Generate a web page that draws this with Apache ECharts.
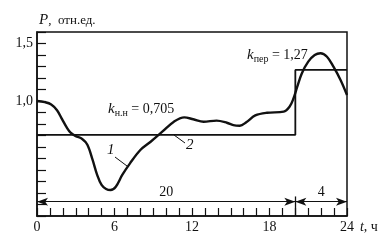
<!DOCTYPE html>
<html>
<head>
<meta charset="utf-8">
<script src="https://cdn.jsdelivr.net/npm/echarts@6/dist/echarts.min.js"></script>
<style>
  html, body { margin: 0; padding: 0; background: #fff; }
  #chart { width: 381px; height: 246px; }
</style>
</head>
<body>
<div id="chart"></div>
<script>
// Daily load curve (1) and its two-step equivalent (2), in relative units
const hours = [0, 0.6, 1.1, 1.55, 1.95, 2.3, 2.6, 3.0, 3.5, 3.9, 4.3, 4.65, 5.0, 5.35, 5.7, 6.1, 6.6, 7.2, 8.0, 8.8, 9.7, 10.6, 11.4, 12.1, 12.9, 13.9, 14.7, 15.2, 15.7, 16.2, 16.9, 17.8, 19.1, 19.55, 19.85, 20.15, 20.5, 21.0, 21.5, 21.95, 22.45, 22.95, 23.5, 24];
const load  = [1.0, 0.99, 0.97, 0.92, 0.84, 0.77, 0.725, 0.695, 0.67, 0.62, 0.49, 0.36, 0.27, 0.235, 0.226, 0.255, 0.357, 0.458, 0.574, 0.646, 0.733, 0.82, 0.858, 0.841, 0.82, 0.829, 0.811, 0.79, 0.785, 0.815, 0.875, 0.898, 0.907, 0.95, 1.02, 1.125, 1.24, 1.342, 1.40, 1.415, 1.385, 1.298, 1.183, 1.052];

// Equivalent two-step schedule: underload part and overload part
const kUnder = 0.705;
const kOver = 1.27;
const tUnder = 20;
const tDay = 24;
const stepHours = [0, tUnder, tUnder, tDay];
const stepLevels = [kUnder, kUnder, kOver, kOver];

const xTickLabels = [0, 6, 12, 18, 24];
const yTickLabels = [1.0, 1.5];
const dimLevel = 0.125;

const serif = '"Liberation Serif", "DejaVu Serif", serif';
const ink = '#111';

const chart = echarts.init(document.getElementById('chart'), null, { renderer: 'canvas' });

const fmt = v => String(v.toFixed(1)).replace('.', ',');

chart.setOption({
  animation: false,
  backgroundColor: '#fff',
  grid: {
    left: 37, right: 34, top: 32, bottom: 30,
    show: true, borderColor: ink, borderWidth: 1.5, backgroundColor: 'transparent'
  },
  xAxis: {
    type: 'value', min: 0, max: tDay, interval: 1,
    axisLine: { lineStyle: { color: ink, width: 1.5 } },
    axisTick: { inside: true, length: 8, lineStyle: { color: ink, width: 1.2 } },
    splitLine: { show: false },
    axisLabel: {
      color: ink, fontFamily: serif, fontSize: 14, margin: 4,
      formatter: v => xTickLabels.indexOf(Math.round(v)) >= 0 && Math.abs(v - Math.round(v)) < 1e-6 ? String(Math.round(v)) : ''
    },
    name: '{t|t}{u|, ч}',
    nameLocation: 'end', nameGap: 5,
    nameTextStyle: {
      verticalAlign: 'top', padding: [4, 0, 0, 0],
      rich: {
        t: { fontFamily: serif, fontStyle: 'italic', fontSize: 14, color: ink },
        u: { fontFamily: serif, fontSize: 14, color: ink }
      }
    }
  },
  yAxis: {
    type: 'value', min: 0, max: 1.6, interval: 0.1,
    axisLine: { lineStyle: { color: ink, width: 1.5 } },
    axisTick: { inside: true, length: 9, lineStyle: { color: ink, width: 1.2 } },
    splitLine: { show: false },
    axisLabel: {
      color: ink, fontFamily: serif, fontSize: 14, margin: 4,
      formatter: v => {
        for (const y of yTickLabels) if (Math.abs(v - y) < 1e-6) return fmt(y);
        return '';
      }
    },
    name: '{p|P}{u|,  отн.ед.}',
    nameLocation: 'end', nameGap: 4,
    nameTextStyle: {
      align: 'left', verticalAlign: 'bottom', padding: [0, 0, 0, 2],
      rich: {
        p: { fontFamily: serif, fontStyle: 'italic', fontSize: 15, color: ink },
        u: { fontFamily: serif, fontSize: 13, color: ink }
      }
    }
  },
  series: [
    {
      name: '1', type: 'line', smooth: 0.35, showSymbol: false, silent: true,
      data: hours.map((h, i) => [h, load[i]]),
      lineStyle: { color: ink, width: 2.4 }
    },
    {
      name: '2', type: 'line', showSymbol: false, silent: true,
      data: stepHours.map((h, i) => [h, stepLevels[i]]),
      lineStyle: { color: ink, width: 1.8 },
      markLine: {
        silent: true, animation: false,
        symbol: ['arrow', 'arrow'], symbolSize: [6, 11],
        lineStyle: { color: ink, width: 1, type: 'solid' },
        label: { show: true, position: 'middle', distance: 2, color: ink, fontFamily: serif, fontSize: 14 },
        data: [
          [{ coord: [0, dimLevel], label: { formatter: String(tUnder) } }, { coord: [tUnder, dimLevel] }],
          [{ coord: [tUnder, dimLevel], label: { formatter: String(tDay - tUnder) } }, { coord: [tDay, dimLevel] }],
          [{ coord: [tUnder, 0], symbol: 'none', label: { show: false }, lineStyle: { width: 1.3 } }, { coord: [tUnder, 0.17], symbol: 'none' }]
        ]
      }
    }
  ],
  graphic: [
    {
      type: 'text', left: 108, top: 102, silent: true,
      style: {
        text: '{k|k}{s|н.н}{v| = 0,705}',
        rich: {
          k: { fontFamily: serif, fontStyle: 'italic', fontSize: 15, fill: ink },
          s: { fontFamily: serif, fontSize: 10, fill: ink, padding: [8, 0, 0, 0] },
          v: { fontFamily: serif, fontSize: 14, fill: ink }
        }
      }
    },
    {
      type: 'text', left: 247, top: 48, silent: true,
      style: {
        text: '{k|k}{s|пер}{v| = 1,27}',
        rich: {
          k: { fontFamily: serif, fontStyle: 'italic', fontSize: 15, fill: ink },
          s: { fontFamily: serif, fontSize: 10, fill: ink, padding: [8, 0, 0, 0] },
          v: { fontFamily: serif, fontSize: 14, fill: ink }
        }
      }
    },
    { type: 'text', left: 107, top: 143, silent: true,
      style: { text: '1', fontFamily: serif, fontStyle: 'italic', fontSize: 15, fill: ink } },
    { type: 'line', silent: true, shape: { x1: 115, y1: 157, x2: 127, y2: 166 },
      style: { stroke: ink, lineWidth: 1 } },
    { type: 'text', left: 186, top: 138, silent: true,
      style: { text: '2', fontFamily: serif, fontStyle: 'italic', fontSize: 15, fill: ink } },
    { type: 'line', silent: true, shape: { x1: 174, y1: 135, x2: 185, y2: 143 },
      style: { stroke: ink, lineWidth: 1 } }
  ]
});
</script>
</body>
</html>
